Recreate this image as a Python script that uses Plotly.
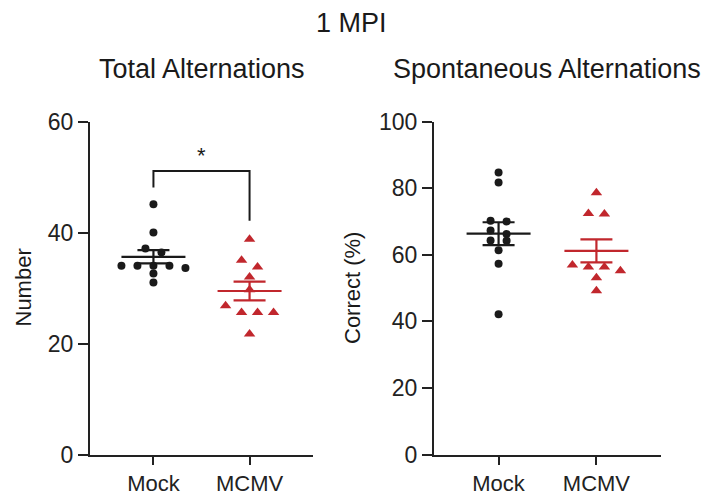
import numpy as np
import plotly.graph_objects as go

# ---------------- data ----------------
groups = ["Mock", "MCMV"]
total_mock = [45.1, 40.0, 37.1, 36.4, 34.0, 34.0, 34.0, 34.0, 33.6, 32.6, 31.0]
total_mcmv = [38.8, 35.0, 33.8, 32.0, 29.7, 26.8, 25.6, 25.6, 25.6, 21.7]
spont_mock = [84.7, 81.7, 70.2, 70.0, 67.3, 66.2, 64.3, 64.2, 61.3, 57.3, 42.1]
spont_mcmv = [78.6, 72.4, 72.2, 56.9, 56.3, 56.3, 55.2, 53.1, 49.2]
main_title = "1 MPI"
panel_titles = ["Total Alternations", "Spontaneous Alternations"]
y_titles = ["Number", "Correct (%)"]
y_ranges = [[0, 60], [0, 100]]
sig_label = "*"

# ---------------- layout geometry ----------------
W, H = 717, 497
x_dom = [[90 / W, 313 / W], [434 / W, 661 / W]]
y_dom = [(H - 454.5) / H, (H - 121.5) / H]
x_range = [-0.66, 1.66]

BLACK = "#1a1a1a"
RED = "#c1272d"
FONT = "Arial, Liberation Sans, Helvetica, sans-serif"


def swarm_offsets(values, px_per_y, px_per_x, step_px=16, row_px=7):
    vals = np.asarray(values, dtype=float)
    order = np.argsort(-vals, kind="stable")
    rows = []
    for idx in order:
        if rows and (vals[rows[-1][0]] - vals[idx]) * px_per_y < row_px:
            rows[-1].append(idx)
        else:
            rows.append([idx])
    off = np.zeros(len(vals))
    for row in rows:
        k = len(row)
        for j, idx in enumerate(row):
            off[idx] = (j - (k - 1) / 2) * step_px / px_per_x
    return off


fig = go.Figure()

panels = [(total_mock, total_mcmv), (spont_mock, spont_mcmv)]
plot_h_px = (y_dom[1] - y_dom[0]) * H
for p, (mock, mcmv) in enumerate(panels):
    xa = "x" if p == 0 else "x2"
    ya = "y" if p == 0 else "y2"
    px_per_x = (x_dom[p][1] - x_dom[p][0]) * W / (x_range[1] - x_range[0])
    px_per_y = plot_h_px / (y_ranges[p][1] - y_ranges[p][0])
    for gi, (vals, col, sym, size) in enumerate(
        [(mock, BLACK, "circle", 8), (mcmv, RED, "triangle-up", 10)]
    ):
        v = np.asarray(vals, dtype=float)
        off = swarm_offsets(v, px_per_y, px_per_x)
        fig.add_trace(go.Scatter(
            x=gi + off, y=v, mode="markers", xaxis=xa, yaxis=ya,
            marker=dict(symbol=sym, size=size, color=col, line=dict(width=0)),
            showlegend=False, hoverinfo="y"))
        m = v.mean()
        sem = v.std(ddof=1) / np.sqrt(len(v))
        hw = 32 / px_per_x
        fig.add_trace(go.Scatter(
            x=[gi - hw, gi + hw], y=[m, m], mode="lines", xaxis=xa, yaxis=ya,
            line=dict(color=col, width=2.2), showlegend=False, hoverinfo="skip"))
        fig.add_trace(go.Scatter(
            x=[gi], y=[m], mode="markers", xaxis=xa, yaxis=ya,
            marker=dict(size=1, opacity=0),
            error_y=dict(type="data", array=[sem], visible=True,
                         width=16, thickness=2.2, color=col),
            showlegend=False, hoverinfo="skip"))

# significance bracket on left panel
mock_top = max(total_mock)
mcmv_top = max(total_mcmv)
br_y = mock_top + 6
fig.add_trace(go.Scatter(
    x=[0, 0, 1, 1], y=[mock_top + 3, br_y, br_y, mcmv_top + 3.3],
    mode="lines", xaxis="x", yaxis="y",
    line=dict(color=BLACK, width=2), showlegend=False, hoverinfo="skip"))


def ann(x, y, text, size, **kw):
    d = dict(x=x, y=y, xref="paper", yref="paper", text=text, showarrow=False,
             xanchor="center", yanchor="middle",
             font=dict(size=size, color=BLACK, family=FONT))
    d.update(kw)
    return d


annotations = [
    dict(x=0.5, y=br_y, xref="x", yref="y", text=sig_label, showarrow=False,
         xanchor="center", yanchor="bottom", yshift=1,
         font=dict(size=22, color=BLACK, family=FONT)),
    ann(351.7 / W, 1 - 23 / H, main_title, 27),
    ann(201.5 / W, 1 - 69 / H, panel_titles[0], 27),
    ann(547 / W, 1 - 69 / H, panel_titles[1], 27),
    ann(22.5 / W, 1 - 288 / H, y_titles[0], 22, textangle=-90),
    ann(352 / W, 1 - 288 / H, y_titles[1], 22, textangle=-90),
]

axis_common = dict(showline=True, linecolor="#222", linewidth=2, ticks="outside",
                   ticklen=10, tickwidth=2, tickcolor="#222", showgrid=False,
                   zeroline=False, automargin=False,
                   tickfont=dict(size=23, color="#222", family=FONT))

layout = dict(
    template="none",
    width=W, height=H, autosize=False,
    margin=dict(l=0, r=0, t=0, b=0, pad=0),
    paper_bgcolor="white", plot_bgcolor="white",
    annotations=annotations,
    showlegend=False,
)
for p in range(2):
    sx = "" if p == 0 else "2"
    layout["xaxis" + sx] = dict(axis_common, domain=x_dom[p], range=x_range,
                                tickvals=[0, 1], ticktext=groups, ticklen=8,
                                tickfont=dict(size=22, color="#222", family=FONT),
                                anchor="y" + sx, fixedrange=True)
    layout["yaxis" + sx] = dict(axis_common, domain=y_dom, range=y_ranges[p],
                                dtick=20, tick0=0, anchor="x" + sx, fixedrange=True)

fig.update_layout(**layout)
fig.write_html("out.html")
